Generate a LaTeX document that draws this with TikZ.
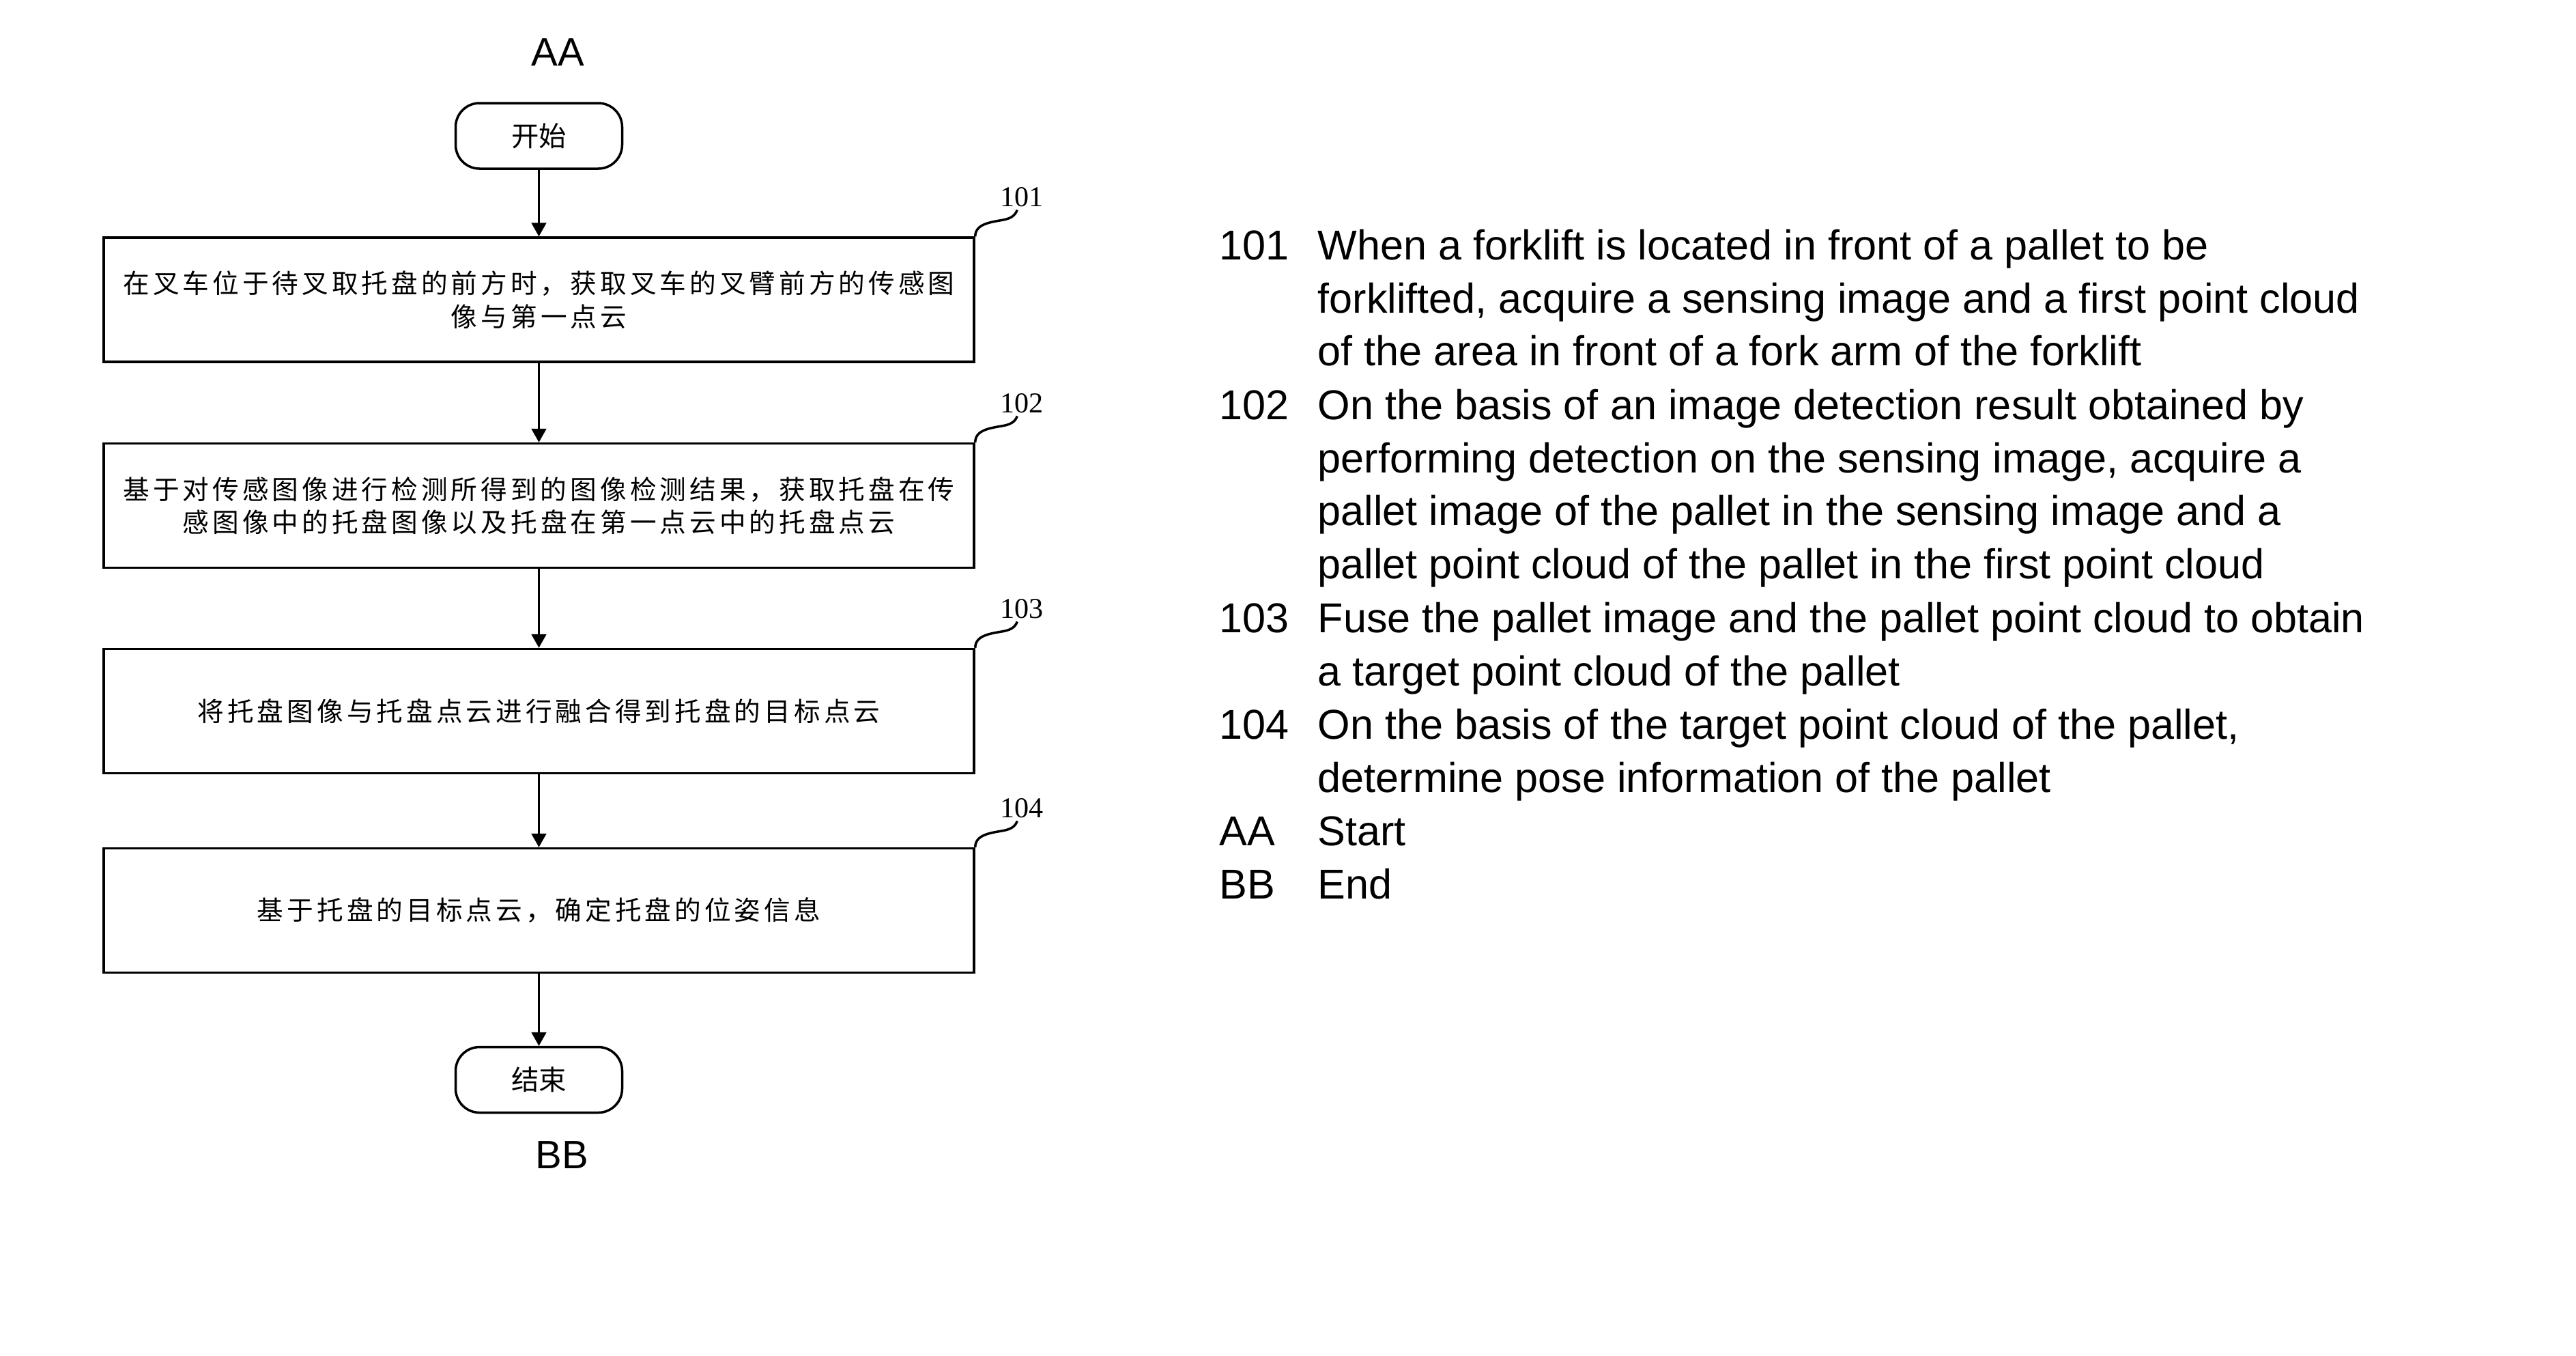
\documentclass[tikz,border=0pt]{standalone}
\usepackage{fontspec}
\setmainfont{Liberation Sans}
\newfontfamily\cjk[LetterSpace=13]{Noto Sans CJK SC}
\newfontfamily\cjkterm{Noto Sans CJK SC}
\newfontfamily\reffont{Liberation Serif}
\usetikzlibrary{arrows.meta}

\begin{document}
\begin{tikzpicture}[
    stepbox/.style={rectangle, draw, line width=1pt, minimum width=12.75cm, minimum height=1.82cm, align=center, inner sep=0pt, font=\cjk\fontsize{11}{13.8}\selectfont},
    term/.style={rectangle, draw, line width=1pt, rounded corners=0.35cm, minimum width=2.44cm, minimum height=0.96cm, font=\cjkterm\fontsize{11.5}{13}\selectfont},
    flow/.style={line width=0.6pt, -{Triangle[length=2mm,width=2.2mm]}},
    lead/.style={line width=1pt},
    ref/.style={inner sep=1pt, font=\reffont\fontsize{12}{13}\selectfont},
    letter/.style={font=\fontsize{16.5}{20}\selectfont},
    num/.style={anchor=base west, inner sep=0pt, font=\fontsize{17.4}{22.19}\selectfont},
    desc/.style={anchor=base west, inner sep=0pt, font=\fontsize{17.4}{22.19}\selectfont}
]
    \useasboundingbox (0,0) rectangle (37.74,-19.85);

    % Flowchart
    \node[letter] (aa) at (8.17,-0.77) {AA};
    \node[term] (start) at (7.895,-1.99) {开始};

    \node[stepbox] (b1) at (7.895,-4.39) {在叉车位于待叉取托盘的前方时，获取叉车的叉臂前方的传感图\\像与第一点云};
    \node[stepbox] (b2) at (7.895,-7.405) {基于对传感图像进行检测所得到的图像检测结果，获取托盘在传\\感图像中的托盘图像以及托盘在第一点云中的托盘点云};
    \node[stepbox] (b3) at (7.895,-10.415) {将托盘图像与托盘点云进行融合得到托盘的目标点云};
    \node[stepbox] (b4) at (7.895,-13.335) {基于托盘的目标点云，确定托盘的位姿信息};

    \node[term] (end) at (7.895,-15.815) {结束};
    \node[letter] (bb) at (8.23,-16.92) {BB};

    \draw[flow] (start) -- (b1);
    \draw[flow] (b1) -- (b2);
    \draw[flow] (b2) -- (b3);
    \draw[flow] (b3) -- (b4);
    \draw[flow] (b4) -- (end);

    % Step numbers
    \node[ref] (r101) at (14.97,-2.89) {101};
    \node[ref] (r102) at (14.97,-5.91) {102};
    \node[ref] (r103) at (14.97,-8.92) {103};
    \node[ref] (r104) at (14.97,-11.84) {104};
    \draw[lead] (b1.north east) to[out=90,in=190] ++(0.4,0.24) to[out=10,in=-110] (r101.250);
    \draw[lead] (b2.north east) to[out=90,in=190] ++(0.4,0.24) to[out=10,in=-110] (r102.250);
    \draw[lead] (b3.north east) to[out=90,in=190] ++(0.4,0.24) to[out=10,in=-110] (r103.250);
    \draw[lead] (b4.north east) to[out=90,in=190] ++(0.4,0.24) to[out=10,in=-110] (r104.250);

    % Legend
    \node[num] (n101) at (17.86,-3.80) {101};
    \node[desc] (t101) at (19.30,-3.80) {\begin{tabular}[t]{@{}l@{}}
        When a forklift is located in front of a pallet to be\\
        forklifted, acquire a sensing image and a first point cloud\\
        of the area in front of a fork arm of the forklift
    \end{tabular}};
    \node[num] (n102) at (17.86,-6.14) {102};
    \node[desc] (t102) at (19.30,-6.14) {\begin{tabular}[t]{@{}l@{}}
        On the basis of an image detection result obtained by\\
        performing detection on the sensing image, acquire a\\
        pallet image of the pallet in the sensing image and a\\
        pallet point cloud of the pallet in the first point cloud
    \end{tabular}};
    \node[num] (n103) at (17.86,-9.26) {103};
    \node[desc] (t103) at (19.30,-9.26) {\begin{tabular}[t]{@{}l@{}}
        Fuse the pallet image and the pallet point cloud to obtain\\
        a target point cloud of the pallet
    \end{tabular}};
    \node[num] (n104) at (17.86,-10.82) {104};
    \node[desc] (t104) at (19.30,-10.82) {\begin{tabular}[t]{@{}l@{}}
        On the basis of the target point cloud of the pallet,\\
        determine pose information of the pallet
    \end{tabular}};
    \node[num] (naa) at (17.86,-12.38) {AA};
    \node[desc] (taa) at (19.30,-12.38) {Start};
    \node[num] (nbb) at (17.86,-13.16) {BB};
    \node[desc] (tbb) at (19.30,-13.16) {End};
\end{tikzpicture}
\end{document}
